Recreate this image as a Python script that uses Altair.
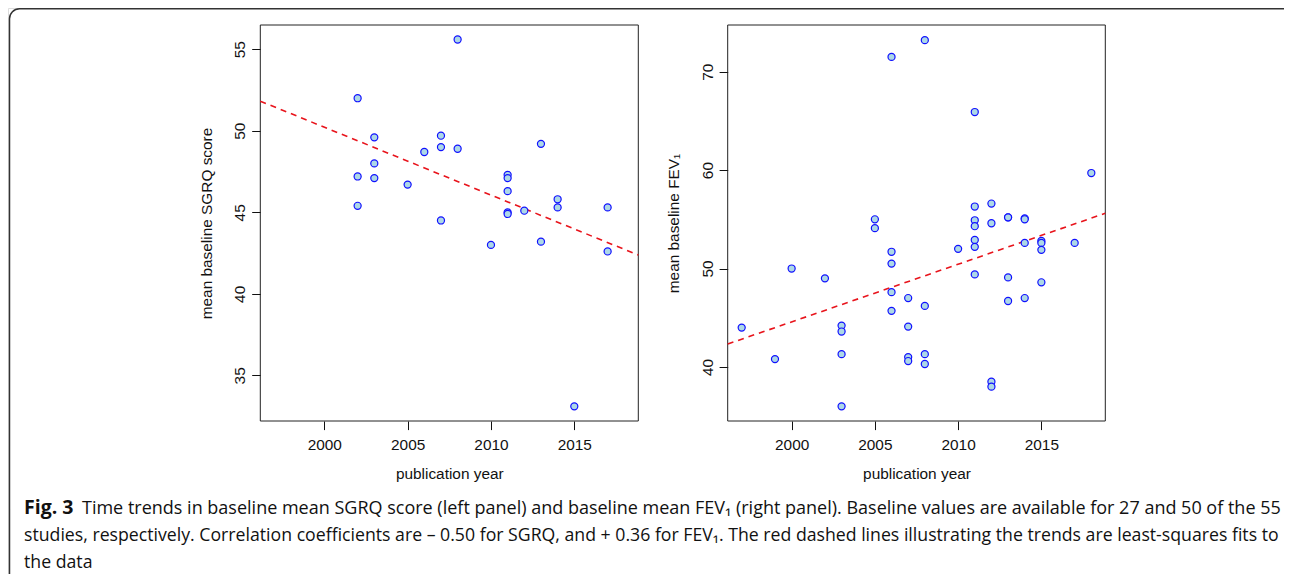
import altair as alt
import pandas as pd

# ---------------- data ----------------
sgrq_year = [2002, 2002, 2002, 2003, 2003, 2003, 2005, 2006, 2007, 2007, 2007,
             2008, 2008, 2010, 2011, 2011, 2011, 2011, 2011, 2012, 2013, 2013,
             2014, 2014, 2015, 2017, 2017]
sgrq_value = [52.0, 47.2, 45.4, 49.6, 48.0, 47.1, 46.7, 48.7, 49.7, 49.0, 44.5,
              55.6, 48.9, 43.0, 47.3, 47.1, 46.3, 45.0, 44.9, 45.1, 49.2, 43.2,
              45.8, 45.3, 33.1, 45.3, 42.6]

fev_year = [1997, 1999, 2000, 2002, 2003, 2003, 2003, 2003, 2005, 2005,
            2006, 2006, 2006, 2006, 2006, 2007, 2007, 2007, 2007,
            2008, 2008, 2008, 2008, 2010,
            2011, 2011, 2011, 2011, 2011, 2011, 2011,
            2012, 2012, 2012, 2012, 2013, 2013, 2013, 2013,
            2014, 2014, 2014, 2014, 2015, 2015, 2015, 2015, 2017, 2018]
fev_value = [44.0, 40.8, 50.0, 49.0, 44.2, 43.6, 41.3, 36.0, 55.0, 54.1,
             71.5, 51.7, 50.5, 47.6, 45.7, 47.0, 44.1, 41.0, 40.6,
             73.2, 46.2, 41.3, 40.3, 52.0,
             65.9, 56.3, 54.9, 54.3, 52.9, 52.2, 49.4,
             56.6, 54.6, 38.5, 38.0, 55.2, 55.2, 49.1, 46.7,
             55.1, 55.0, 52.6, 47.0, 52.8, 52.6, 51.9, 48.6, 52.6, 59.7]

# least-squares trend lines, value at left / right edge of the plot
sgrq_fit = [51.82, 42.38]
fev_fit = [42.33, 55.61]

year_domain = [1996.16, 2018.84]
sgrq_domain = [32.2, 56.49]
fev_domain = [34.51, 74.74]
year_ticks = [2000, 2005, 2010, 2015]
sgrq_ticks = [35, 40, 45, 50, 55]
fev_ticks = [40, 50, 60, 70]

x_title = "publication year"
sgrq_title = "mean baseline SGRQ score"
fev_title = "mean baseline FEV\u2081"

caption_bold = "Fig. 3"
caption_lines = [
    "Time trends in baseline mean SGRQ score (left panel) and baseline mean FEV\u2081 (right panel). Baseline values are available for 27 and 50 of the 55",
    "studies, respectively. Correlation coefficients are \u2013 0.50 for SGRQ, and + 0.36 for FEV\u2081. The red dashed lines illustrating the trends are least-squares fits to",
    "the data",
]

# ---------------- layout ----------------
W, H = 1276, 566
TOP, BOTTOM = 17, 413
LEFT_RANGE = [252.3, 630.3]
RIGHT_RANGE = [719.7, 1097.3]
AXF = "Liberation Sans"
AXS = 15.4
CAPF = "Open Sans"
INK = "#111111"


def panel(years, values, ydomain, yticks, fit, xrange, ytitle):
    df = pd.DataFrame({"year": years, "value": values})
    fit_df = pd.DataFrame({"year": year_domain, "value": fit})
    xs = alt.Scale(domain=year_domain, range=list(xrange), nice=False, zero=False)
    ys = alt.Scale(domain=ydomain, range=[BOTTOM, TOP], nice=False, zero=False)

    xaxis = alt.Axis(
        values=year_ticks, format="d", orient="bottom", offset=BOTTOM - H,
        domain=False, grid=False, tickSize=8.6, tickColor=INK, tickWidth=1,
        labelFont=AXF, labelFontSize=AXS, labelColor=INK, labelBaseline="alphabetic",
        labelPadding=19.4, labelFlush=False, labelOverlap=False,
        title=x_title, titleFont=AXF, titleFontSize=AXS, titleFontWeight="normal",
        titleColor=INK, titleBaseline="alphabetic", titleY=57,
    )
    yaxis = alt.Axis(
        values=yticks, format="d", orient="left", offset=-xrange[0],
        domain=False, grid=False, tickSize=8.6, tickColor=INK, tickWidth=1,
        labelFont=AXF, labelFontSize=AXS, labelColor=INK, labelAngle=270,
        labelAlign="center", labelBaseline="alphabetic", labelPadding=6.7,
        labelFlush=False, labelOverlap=False,
        title=ytitle, titleFont=AXF, titleFontSize=AXS, titleFontWeight="normal",
        titleColor=INK, titleAngle=270, titleBaseline="alphabetic", titleX=-48.8,
    )

    frame = alt.Chart(pd.DataFrame({"k": [0]})).mark_rect(
        fillOpacity=0, stroke="#222222", strokeWidth=1
    ).encode(
        x=alt.XDatum(year_domain[0], type="quantitative", scale=xs, axis=None),
        x2=alt.X2Datum(year_domain[1]),
        y=alt.YDatum(ydomain[0], type="quantitative", scale=ys, axis=None),
        y2=alt.Y2Datum(ydomain[1]),
    )
    line = alt.Chart(fit_df).mark_line(
        color="#e8141c", strokeDash=[6, 5], strokeWidth=1.6
    ).encode(
        x=alt.X("year:Q", scale=xs, axis=None),
        y=alt.Y("value:Q", scale=ys, axis=None),
    )
    pts = alt.Chart(df).mark_circle(
        size=50, opacity=1, fill="#add8e6", stroke="#1010ff", strokeWidth=1.2
    ).encode(
        x=alt.X("year:Q", scale=xs, axis=xaxis),
        y=alt.Y("value:Q", scale=ys, axis=yaxis),
    )
    return [frame, line, pts]


left = panel(sgrq_year, sgrq_value, sgrq_domain, sgrq_ticks, sgrq_fit, LEFT_RANGE, sgrq_title)
right = panel(fev_year, fev_value, fev_domain, fev_ticks, fev_fit, RIGHT_RANGE, fev_title)

one = pd.DataFrame({"k": [0]})
border = alt.Chart(one).mark_rect(
    fillOpacity=0, stroke="#333333", strokeWidth=1.5, cornerRadius=10
).encode(x=alt.value(1.5), x2=alt.value(1290), y=alt.value(0.75), y2=alt.value(580))

cap_bold = alt.Chart(one).mark_text(
    font=CAPF, fontSize=19.5, fontWeight="bold", align="left", baseline="alphabetic", color=INK
).encode(x=alt.value(16), y=alt.value(506), text=alt.value(caption_bold))

cap_layers = []
cap_pos = [(74, 506, 18), (16, 533, 17.7), (16, 560, 17.7)]
for txt, (cx, cy, fs) in zip(caption_lines, cap_pos):
    cap_layers.append(
        alt.Chart(one).mark_text(
            font=CAPF, fontSize=fs, align="left", baseline="alphabetic", color=INK
        ).encode(x=alt.value(cx), y=alt.value(cy), text=alt.value(txt))
    )

chart = alt.layer(border, cap_bold, *cap_layers, *left, *right).resolve_scale(
    x="independent", y="independent"
).properties(
    width=W, height=H, padding=0, autosize=alt.AutoSizeParams(type="none")
).configure_view(stroke=None).configure(background="white")

chart.save("out.html", embed_options={"renderer": "svg", "actions": False})
